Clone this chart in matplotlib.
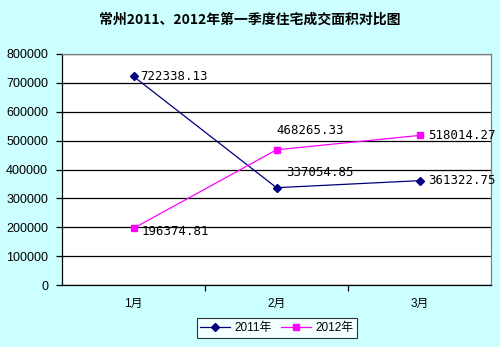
import matplotlib.pyplot as plt
from matplotlib.ticker import FixedLocator

plt.rcParams['font.family'] = ['Liberation Sans', 'Noto Sans CJK SC', 'DejaVu Sans']

months = ["1月", "2月", "3月"]
area_2011 = [722338.13, 337054.85, 361322.75]
area_2012 = [196374.81, 468265.33, 518014.27]
yticks = [0, 100000, 200000, 300000, 400000, 500000, 600000, 700000, 800000]

bg = "#ccffff"
fig = plt.figure(figsize=(5.0, 3.47), dpi=100, facecolor=bg)
ax = fig.add_axes([62 / 500, 1 - 285 / 347, 429 / 500, 231 / 347])
ax.set_facecolor("white")

x = list(range(len(months)))
l1, = ax.plot(x, area_2011, color="#000080", lw=0.9, marker="D", ms=4,
              label="2011年", zorder=3)
l2, = ax.plot(x, area_2012, color="#ff00ff", lw=0.9, marker="s", ms=4.5,
              label="2012年", zorder=3)

# value labels
mono = ["DejaVu Sans Mono"]
lab = dict(fontsize=8.9, family=mono, color="black", zorder=4)
ax.annotate(f"{area_2011[0]:.2f}", (x[0], area_2011[0]), xytext=(5, 0),
            textcoords="offset points", ha="left", va="center", **lab)
ax.annotate(f"{area_2011[1]:.2f}", (x[1], area_2011[1]), xytext=(7, 11),
            textcoords="offset points", ha="left", va="center", **lab)
ax.annotate(f"{area_2011[2]:.2f}", (x[2], area_2011[2]), xytext=(6, 0),
            textcoords="offset points", ha="left", va="center", **lab)
ax.annotate(f"{area_2012[0]:.2f}", (x[0], area_2012[0]), xytext=(6, -2),
            textcoords="offset points", ha="left", va="center", **lab)
ax.annotate(f"{area_2012[1]:.2f}", (x[1], area_2012[1]), xytext=(0, 14),
            textcoords="offset points", ha="left", va="center", **lab)
ax.annotate(f"{area_2012[2]:.2f}", (x[2], area_2012[2]), xytext=(6, 0),
            textcoords="offset points", ha="left", va="center", **lab)

ax.set_xlim(-0.5, 2.5)
ax.set_ylim(0, 800000)
ax.set_yticks(yticks)
ax.set_yticklabels([str(v) for v in yticks], fontsize=9)
ax.yaxis.grid(True, color="black", lw=0.9)
ax.set_axisbelow(True)

ax.set_xticks(x)
ax.set_xticklabels(months, fontsize=8.5)
ax.xaxis.set_minor_locator(FixedLocator([0.5, 1.5]))
ax.tick_params(axis="x", which="major", length=0, pad=9)
ax.tick_params(axis="x", which="minor", length=4, direction="out", width=0.9)
ax.tick_params(axis="y", length=4, direction="out", width=0.9, pad=6)

for side in ["left", "bottom"]:
    ax.spines[side].set_color("black")
    ax.spines[side].set_linewidth(0.9)
for side in ["top", "right"]:
    ax.spines[side].set_color("#808080")
    ax.spines[side].set_linewidth(0.9)

fig.text(0.5, 1 - 20 / 347, "常州2011、2012年第一季度住宅成交面积对比图",
         ha="center", va="center", fontsize=10, fontweight="bold",
         family=["Noto Sans CJK SC"])

leg = fig.legend(handles=[l1, l2], loc="center", bbox_to_anchor=(277 / 500, 1 - 328 / 347),
                 ncol=2, fontsize=8.5, frameon=True, fancybox=False,
                 edgecolor="black", borderpad=0.3, handlelength=2.5,
                 columnspacing=0.8, handletextpad=0.4)
leg.get_frame().set_linewidth(0.8)

fig.savefig("out.png", dpi=100, facecolor=bg)
